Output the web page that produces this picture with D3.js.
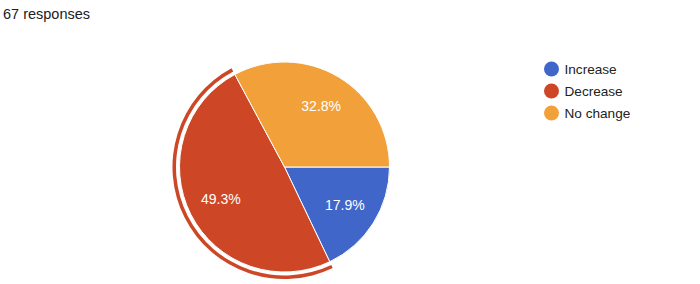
<!DOCTYPE html>
<html>
<head>
<meta charset="utf-8">
<script src="https://cdn.jsdelivr.net/npm/d3@7"></script>
<style>
  body { margin: 0; background: #fff; }
  .title { font-family: "Liberation Sans", Arial, sans-serif; font-size: 14.5px; fill: #202124; }
  .slice-label { font-family: "Liberation Sans", Arial, sans-serif; font-size: 14px; fill: #fff; }
  .legend text { font-family: "Liberation Sans", Arial, sans-serif; font-size: 13.6px; fill: #222; }
</style>
</head>
<body>
<div id="chart"></div>
<script>
var categories = ["Increase", "Decrease", "No change"];
var counts = [12, 33, 22];
var colors = ["#4066c9", "#cd4727", "#f2a13a"];
var total = 67;
var highlighted = "Decrease";

var width = 700, height = 284;
var cx = 284.5, cy = 167, radius = 105;

var svg = d3.select("#chart").append("svg")
    .attr("width", width)
    .attr("height", height);

svg.append("text")
    .attr("class", "title")
    .attr("x", 3)
    .attr("y", 18.5)
    .text(total + " responses");

var data = categories.map(function(c, i) { return {name: c, value: counts[i], color: colors[i]}; });

// slices start at 3 o'clock and go clockwise
var pie = d3.pie()
    .value(function(d) { return d.value; })
    .sort(null)
    .startAngle(Math.PI / 2)
    .endAngle(Math.PI / 2 + 2 * Math.PI);

var arcs = pie(data);

var arc = d3.arc().innerRadius(0).outerRadius(radius);
var labelArc = d3.arc().innerRadius(radius * 0.68).outerRadius(radius * 0.68);
var ringArc = d3.arc().innerRadius(radius + 3.5).outerRadius(radius + 7);

var g = svg.append("g")
    .attr("transform", "translate(" + cx + "," + cy + ")");

g.selectAll(".slice")
    .data(arcs)
  .enter().append("path")
    .attr("class", "slice")
    .attr("d", arc)
    .attr("fill", function(d) { return d.data.color; })
    .attr("stroke", "#fff")
    .attr("stroke-width", 1);

// selection ring around the highlighted slice
g.selectAll(".ring")
    .data(arcs.filter(function(d) { return d.data.name === highlighted; }))
  .enter().append("path")
    .attr("class", "ring")
    .attr("d", ringArc)
    .attr("fill", function(d) { return d.data.color; });

g.selectAll(".slice-label")
    .data(arcs)
  .enter().append("text")
    .attr("class", "slice-label")
    .attr("transform", function(d) { return "translate(" + labelArc.centroid(d) + ")"; })
    .attr("text-anchor", "middle")
    .attr("dy", "0.35em")
    .text(function(d) { return (d.data.value / total * 100).toFixed(1) + "%"; });

/* Legend */
var legend = svg.selectAll(".legend")
    .data(data)
  .enter().append("g")
    .attr("class", "legend")
    .attr("transform", function(d, i) { return "translate(551.5," + (69 + i * 22) + ")"; });

legend.append("circle")
    .attr("r", 7.5)
    .attr("fill", function(d) { return d.color; });

legend.append("text")
    .attr("x", 13)
    .attr("dy", "0.35em")
    .text(function(d) { return d.name; });
</script>
</body>
</html>
